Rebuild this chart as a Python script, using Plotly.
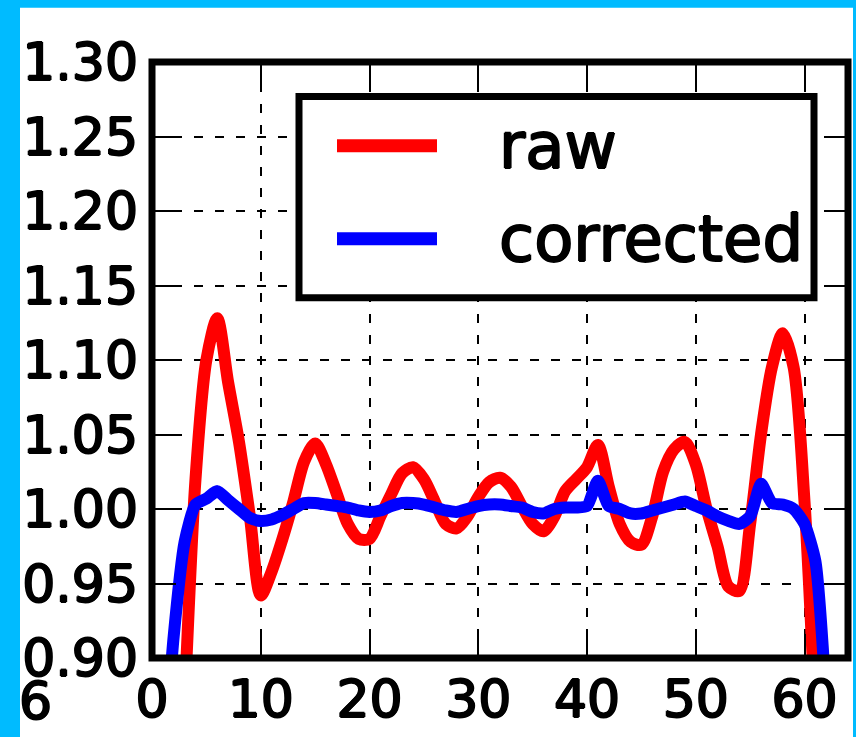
import plotly.graph_objects as go

# ---------------- data ----------------
x_raw = list(range(3, 62))
raw = [0.87, 1.02, 1.10, 1.128, 1.085, 1.045, 0.995, 0.942, 0.958, 0.98,
       1.005, 1.032, 1.044, 1.03, 1.01, 0.99, 0.98, 0.98, 0.995, 1.01,
       1.024, 1.028, 1.02, 1.005, 0.99, 0.987, 0.995, 1.008, 1.018, 1.021,
       1.015, 1.002, 0.99, 0.985, 0.995, 1.012, 1.02, 1.028, 1.043, 1.015,
       0.99, 0.978, 0.976, 0.995, 1.025, 1.04, 1.045, 1.03, 1.0, 0.975,
       0.948, 0.945, 0.99, 1.05, 1.095, 1.118, 1.095, 1.005, 0.86]

x_corr = list(range(1, 63))
corrected = [0.82, 0.915, 0.978, 1.003, 1.007, 1.012, 1.006, 1.0, 0.994, 0.992,
             0.993, 0.996, 1.0, 1.004, 1.004, 1.003, 1.002, 1.001, 0.999, 0.998,
             0.999, 1.002, 1.004, 1.004, 1.003, 1.001, 0.999, 0.998, 1.0, 1.002,
             1.003, 1.003, 1.002, 1.001, 0.998, 0.997, 1.0, 1.001, 1.001, 1.002,
             1.019, 1.002, 1.0, 0.997, 0.997, 0.999, 1.001, 1.003, 1.005, 1.002,
             0.999, 0.995, 0.992, 0.99, 0.995, 1.017, 1.004, 1.003, 1.0, 0.99,
             0.965, 0.87]

x_ticks = [0, 10, 20, 30, 40, 50, 60]
y_ticks = [0.90, 0.95, 1.00, 1.05, 1.10, 1.15, 1.20, 1.25, 1.30]
series_names = ["raw", "corrected"]
series_colors = ["#FF0000", "#0000FF"]

# ---------------- layout geometry ----------------
W, H = 856, 737
L, R, T, B = 152, 8, 62, 71
PW = W - L - R
PH = H - T - B


def px_x(p):
    return (p - L) / PW


def px_y(p):
    return (H - B - p) / PH


FONT = "DejaVu Sans"
HEAVY = "1px 0 0 #000, -1px 0 0 #000, 0 1px 0 #000, 0 -1px 0 #000"

fig = go.Figure()
fig.add_trace(go.Scatter(x=x_raw, y=raw, mode="lines", name=series_names[0],
                         line=dict(color=series_colors[0], width=12,
                                   shape="spline", smoothing=0.8)))
fig.add_trace(go.Scatter(x=x_corr, y=corrected, mode="lines", name=series_names[1],
                         line=dict(color=series_colors[1], width=12,
                                   shape="spline", smoothing=0.6)))

axis_common = dict(
    ticks="inside", ticklen=24, tickwidth=2, tickcolor="black",
    mirror="ticks", showline=False, zeroline=False,
    showgrid=True, gridcolor="black", gridwidth=2, griddash="9px,12px",
    tickfont=dict(family=FONT, size=52, color="black", shadow=HEAVY),
)

fig.update_xaxes(range=[0, 64], tickvals=x_ticks, ticklabelstandoff=6, **axis_common)
fig.update_yaxes(range=[0.9, 1.3], tickvals=y_ticks, tickformat=".2f",
                 ticklabelstandoff=13, **axis_common)

shapes = []
# cyan page border: white sheet on cyan paper
shapes.append(dict(type="rect", xref="paper", yref="paper", layer="below",
                   x0=px_x(20), x1=px_x(853), y0=px_y(H + 10), y1=px_y(7),
                   fillcolor="white", line=dict(width=0)))
# plot frame
shapes.append(dict(type="rect", xref="paper", yref="paper", layer="above",
                   x0=0, x1=1, y0=0, y1=1, line=dict(color="black", width=7)))
# legend box
shapes.append(dict(type="rect", xref="paper", yref="paper", layer="above",
                   x0=px_x(299), x1=px_x(814), y0=px_y(301), y1=px_y(97),
                   fillcolor="white", line=dict(color="black", width=7)))
legend_rows = [147, 241]
annotations = []
for name, color, yy in zip(series_names, series_colors, legend_rows):
    shapes.append(dict(type="line", xref="paper", yref="paper", layer="above",
                       x0=px_x(337), x1=px_x(437), y0=px_y(yy), y1=px_y(yy),
                       line=dict(color=color, width=13)))
    annotations.append(dict(xref="paper", yref="paper", x=px_x(497), y=px_y(yy),
                            xanchor="left", yanchor="middle", showarrow=False,
                            text=name, font=dict(family=FONT, size=64, color="black",
                                                 shadow=HEAVY)))

annotations.append(dict(xref="paper", yref="paper", x=px_x(17), y=px_y(710),
                        xanchor="left", yanchor="middle", showarrow=False,
                        text="6", font=dict(family=FONT, size=52, color="black",
                                            shadow=HEAVY)))

fig.update_layout(
    width=W, height=H,
    margin=dict(l=L, r=R, t=T, b=B, pad=0),
    paper_bgcolor="#00BBFF", plot_bgcolor="white",
    showlegend=False,
    shapes=shapes, annotations=annotations,
)

fig.write_html("out.html")
